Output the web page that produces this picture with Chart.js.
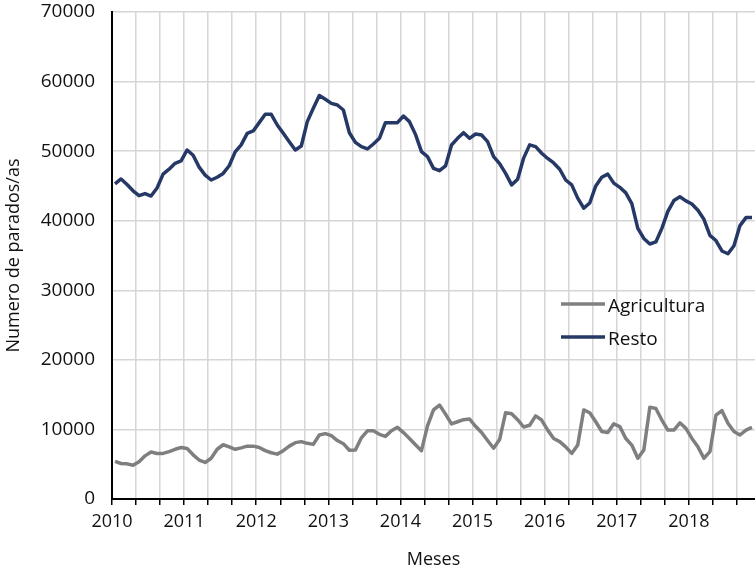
<!DOCTYPE html>
<html>
<head>
<meta charset="utf-8">
<script src="https://cdn.jsdelivr.net/npm/chart.js@4.4.1/dist/chart.umd.min.js"></script>
<style>
html,body{margin:0;padding:0;background:#fff;}
canvas{display:block;}
</style>
</head>
<body>
<canvas id="c" width="755" height="572"></canvas>
<script>
// ---- Data (monthly, January 2010 onward) ----
const yearLabels = ['2010','2011','2012','2013','2014','2015','2016','2017','2018'];
const seriesNames = ['Agricultura', 'Resto'];
const yTickValues = [0, 10000, 20000, 30000, 40000, 50000, 60000, 70000];

const agricultura = [
  5400, 5100, 5050, 4850, 5350, 6200, 6750, 6550, 6550, 6800,
  7150, 7400, 7250, 6350, 5600, 5250, 5850, 7150, 7800, 7500,
  7150, 7350, 7600, 7600, 7400, 6950, 6650, 6450, 6950, 7600,
  8100, 8250, 8000, 7850, 9200, 9400, 9100, 8400, 7950, 7000,
  7050, 8800, 9800, 9800, 9300, 9000, 9800, 10300, 9550, 8700,
  7800, 6950, 10500, 12800, 13500, 12200, 10800, 11100, 11400, 11500,
  10450, 9550, 8400, 7300, 8550, 12400, 12250, 11400, 10350, 10600,
  11950, 11350, 9900, 8700, 8250, 7500, 6550, 7750, 12800, 12400,
  11100, 9700, 9550, 10800, 10400, 8700, 7750, 5850, 7050, 13200,
  13000, 11350, 9900, 9900, 10950, 10150, 8700, 7500, 5850, 6800,
  12050, 12700, 10900, 9700, 9200, 9900, 10300
];

const resto = [
  45300, 46000, 45200, 44300, 43600, 43900, 43550, 44700, 46700, 47400,
  48250, 48600, 50170, 49400, 47700, 46550, 45850, 46250, 46800, 47900,
  49900, 50900, 52550, 52900, 54100, 55300, 55300, 53760, 52560, 51360,
  50170, 50740, 54240, 56160, 58000, 57450, 56870, 56630, 55910, 52650,
  51260, 50640, 50310, 51030, 51840, 54090, 54090, 54090, 55050, 54240,
  52410, 49930, 49210, 47530, 47190, 47870, 50880, 51840, 52650, 51840,
  52460, 52320, 51360, 49210, 48200, 46800, 45150, 45950, 49000, 50900,
  50650, 49700, 48950, 48300, 47400, 45850, 45150, 43250, 41800, 42550,
  45000, 46250, 46700, 45400, 44800, 44000, 42450, 38900, 37450, 36650,
  36950, 38900, 41350, 42900, 43450, 42850, 42400, 41500, 40200, 37900,
  37150, 35650, 35250, 36400, 39300, 40450, 40450
];

// each month sits in the middle of its month slot on a month-index axis
const toPoints = arr => arr.map((v, i) => ({ x: i + 0.5, y: v }));

const FONT = "'Open Sans', 'DejaVu Sans', sans-serif";
const TEXT = '#111111';
const GRID = '#d6d6d6';

const insideLegend = {
  id: 'insideLegend',
  afterDatasetsDraw(chart) {
    const ctx = chart.ctx;
    const rows = [304, 337];
    chart.data.datasets.forEach((ds, i) => {
      const y = rows[i];
      ctx.save();
      ctx.strokeStyle = ds.borderColor;
      ctx.lineWidth = ds.borderWidth;
      ctx.lineCap = 'butt';
      ctx.beginPath();
      ctx.moveTo(561, y);
      ctx.lineTo(605, y);
      ctx.stroke();
      ctx.fillStyle = TEXT;
      ctx.font = '19px ' + FONT;
      ctx.textBaseline = 'alphabetic';
      ctx.textAlign = 'left';
      ctx.fillText(ds.label, 608, y + 8);
      ctx.restore();
    });
  }
};

new Chart(document.getElementById('c'), {
  type: 'line',
  data: {
    datasets: [
      {
        label: seriesNames[0],
        data: toPoints(agricultura),
        borderColor: '#7f7f82',
        backgroundColor: '#7f7f82',
        borderWidth: 3.5,
        pointRadius: 0,
        tension: 0,
        borderJoinStyle: 'round',
        fill: false
      },
      {
        label: seriesNames[1],
        data: toPoints(resto),
        borderColor: '#263866',
        backgroundColor: '#263866',
        borderWidth: 3.5,
        pointRadius: 0,
        tension: 0,
        borderJoinStyle: 'round',
        fill: false
      }
    ]
  },
  options: {
    responsive: false,
    animation: false,
    layout: { padding: { top: 12, left: 0, right: 0, bottom: 0 } },
    plugins: {
      legend: { display: false },
      tooltip: { enabled: false }
    },
    scales: {
      x: {
        type: 'linear',
        min: 0,
        max: 107,
        afterBuildTicks: (s) => {
          const t = [];
          for (let v = 0; v <= 104; v += 4) t.push({ value: v });
          s.ticks = t;
        },
        afterFit: (s) => {
          s.height = 73;
          s.paddingLeft = 0; s.paddingRight = 0; s.paddingTop = 0; s.paddingBottom = 0;
        },
        ticks: {
          autoSkip: false,
          maxRotation: 0,
          minRotation: 0,
          padding: 6,
          color: TEXT,
          font: { family: FONT, size: 18 },
          callback: (v) => (v % 12 === 0 ? yearLabels[v / 12] : '')
        },
        grid: {
          color: GRID,
          lineWidth: 1.5,
          drawTicks: true,
          tickLength: 6,
          tickColor: '#000',
          tickWidth: 1.5
        },
        border: { display: true, color: '#000', width: 2 },
        title: {
          display: true,
          text: 'Meses',
          color: TEXT,
          font: { family: FONT, size: 18 },
          padding: { top: 0, bottom: 1 }
        }
      },
      y: {
        min: 0,
        max: 70000,
        afterBuildTicks: (s) => { s.ticks = yTickValues.map(v => ({ value: v })); },
        afterFit: (s) => {
          s.width = 112;
          s.paddingLeft = 0; s.paddingRight = 0; s.paddingTop = 0; s.paddingBottom = 0;
        },
        ticks: {
          padding: 17,
          color: TEXT,
          font: { family: FONT, size: 19 },
          callback: (v) => String(v)
        },
        grid: { color: GRID, lineWidth: 1.5, drawTicks: false },
        border: { display: true, color: '#000', width: 2 },
        title: {
          display: true,
          text: 'Numero de parados/as',
          color: TEXT,
          font: { family: FONT, size: 18 },
          padding: { top: 3, bottom: 0 }
        }
      }
    }
  },
  plugins: [insideLegend]
});
</script>
</body>
</html>
